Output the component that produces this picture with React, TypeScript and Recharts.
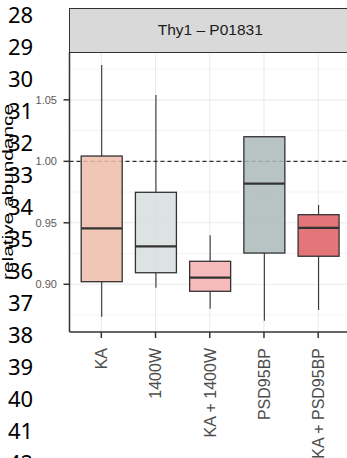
import React from 'react';
import { ComposedChart, Bar, XAxis, YAxis, CartesianGrid } from 'recharts';

const categories = ['KA', '1400W', 'KA + 1400W', 'PSD95BP', 'KA + PSD95BP'];
const lowerWhisker = [0.8737, 0.8972, 0.8802, 0.8704, 0.8791];
const lowerHinge = [0.9021, 0.9094, 0.8943, 0.9254, 0.9228];
const medians = [0.9455, 0.9309, 0.9054, 0.9818, 0.9458];
const upperHinge = [1.0043, 0.9748, 0.9187, 1.02, 0.9566];
const upperWhisker = [1.0783, 1.0539, 0.9398, 1.0206, 0.9645];

const yTicks = [0.9, 0.95, 1.0, 1.05];
const minorTicks = [0.875, 0.925, 0.975, 1.025, 1.075];
const refValue = [1.0];
const lineNumbers = ['28', '29', '30', '31', '32', '33', '34', '35', '36', '37', '38', '39', '40', '41', '42'];

const fills = ['#eebca9', '#d7dedd', '#f6aeb1', '#acb8b8', '#df5e62'];
const FONT = '"Liberation Sans", Arial, sans-serif';

const data = categories.map((name, i) => ({
  name,
  min: lowerWhisker[i],
  q1: lowerHinge[i],
  median: medians[i],
  q3: upperHinge[i],
  max: upperWhisker[i],
}));

// box drawn inside the [min, max] range bar, positions derived from the bar's own scale
const BoxShape = (props: any) => {
  const { x, y, width, height, payload, index } = props;
  const ppu = height / (payload.max - payload.min);
  const py = (v: number) => y + (payload.max - v) * ppu;
  const cx = x + width / 2;
  return (
    <g>
      <line x1={cx} x2={cx} y1={py(payload.max)} y2={py(payload.q3)} stroke="#333" strokeWidth={1.1} />
      <line x1={cx} x2={cx} y1={py(payload.q1)} y2={py(payload.min)} stroke="#333" strokeWidth={1.1} />
      <rect
        x={x}
        y={py(payload.q3)}
        width={width}
        height={py(payload.q1) - py(payload.q3)}
        fill={fills[index]}
        fillOpacity={0.85}
        stroke="#333"
        strokeWidth={1.3}
      />
      <line x1={x} x2={x + width} y1={py(payload.median)} y2={py(payload.median)} stroke="#333" strokeWidth={2.2} />
    </g>
  );
};

const XTick = (props: any) => {
  const { x, y, payload } = props;
  return (
    <text
      transform={`translate(${x + 5.8},${y}) rotate(-90)`}
      textAnchor="end"
      fontSize={16}
      fontFamily={FONT}
      fill="#4d4d4d"
    >
      {payload.value}
    </text>
  );
};

const YTick = (props: any) => {
  const { x, y, payload } = props;
  return (
    <text x={x} y={y} dy={4} textAnchor="end" fontSize={11} fontFamily={FONT} fill="#595959">
      {Number(payload.value).toFixed(2)}
    </text>
  );
};

const YLabel = (props: any) => {
  const { viewBox } = props;
  const cy = viewBox.y + viewBox.height / 2;
  return (
    <text
      transform={`translate(13,${cy}) rotate(-90)`}
      textAnchor="middle"
      fontSize={15}
      fontFamily={FONT}
      fill="#000"
      textLength={176}
      lengthAdjust="spacingAndGlyphs"
    >
      relative abundance
    </text>
  );
};

export default function App() {
  return (
    <div style={{ position: 'fixed', left: 0, top: 0, width: 347, height: 458, overflow: 'hidden', background: '#fff' }}>
      <ComposedChart width={351} height={458} data={data} margin={{ top: 52, right: 1, bottom: 0, left: 0 }}>
        <CartesianGrid stroke="#ebebeb" strokeWidth={0.6} horizontalValues={minorTicks} vertical={false} />
        <CartesianGrid stroke="#ebebeb" strokeWidth={1.1} horizontalValues={yTicks} />
        <CartesianGrid stroke="#000" strokeWidth={1} horizontalValues={refValue} vertical={false} strokeDasharray="4 3" />
        <XAxis
          dataKey="name"
          type="category"
          height={126}
          padding={{ left: 4.7, right: 4.7 }}
          tickSize={6}
          tickMargin={10}
          axisLine={{ stroke: '#333', strokeWidth: 1.5 }}
          tickLine={{ stroke: '#333', strokeWidth: 1.5 }}
          tick={<XTick />}
          interval={0}
        />
        <YAxis
          type="number"
          width={69.5}
          domain={[0.8612, 1.0889]}
          allowDataOverflow
          ticks={yTicks}
          tickSize={6}
          tickMargin={6.5}
          axisLine={{ stroke: '#333', strokeWidth: 1.5 }}
          tickLine={{ stroke: '#333', strokeWidth: 1.5 }}
          tick={<YTick />}
          label={{ content: <YLabel /> }}
        />
        <Bar
          dataKey={(d: any) => [d.min, d.max]}
          barSize={41}
          shape={<BoxShape />}
          isAnimationActive={false}
        />
      </ComposedChart>
      <div
        style={{
          position: 'absolute',
          left: 68.75,
          top: 8.25,
          width: 283,
          height: 44.25,
          border: '1.5px solid #333',
          boxSizing: 'border-box',
          background: '#d9d9d9',
          display: 'flex',
          alignItems: 'center',
          justifyContent: 'center',
          fontFamily: FONT,
          fontSize: 15.5,
          color: '#1a1a1a',
        }}
      >
        Thy1 – P01831
      </div>
      <div
        style={{
          position: 'absolute',
          left: 8,
          top: -1.8,
          fontFamily: '"Noto Sans", sans-serif',
          fontSize: 22,
          lineHeight: '32px',
          color: '#000',
          pointerEvents: 'none',
        }}
      >
        {lineNumbers.map((n) => (
          <div key={n}>{n}</div>
        ))}
      </div>
    </div>
  );
}
